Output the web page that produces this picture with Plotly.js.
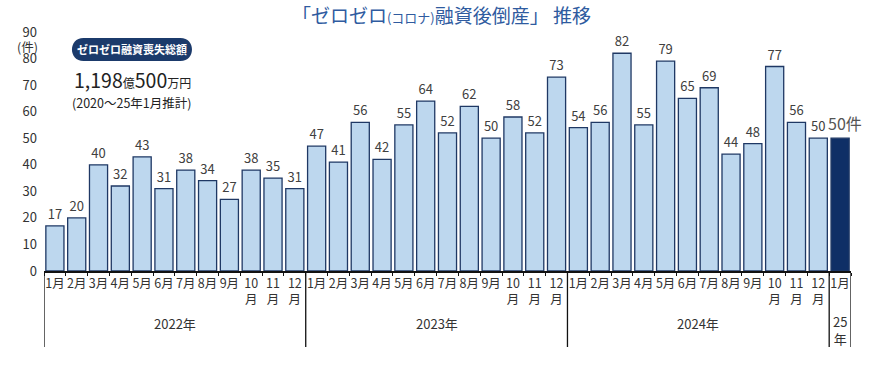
<!DOCTYPE html>
<html><head><meta charset="utf-8">
<script src="https://cdn.plot.ly/plotly-3.0.1.min.js"></script>
<style>html,body{margin:0;padding:0;background:#fff}#chart{width:883px;height:366px}</style>
</head><body><div id="chart"></div>
<script>
const categories = ["2022-01","2022-02","2022-03","2022-04","2022-05","2022-06","2022-07","2022-08","2022-09","2022-10","2022-11","2022-12",
"2023-01","2023-02","2023-03","2023-04","2023-05","2023-06","2023-07","2023-08","2023-09","2023-10","2023-11","2023-12",
"2024-01","2024-02","2024-03","2024-04","2024-05","2024-06","2024-07","2024-08","2024-09","2024-10","2024-11","2024-12",
"2025-01"];
const monthLabels = ["1月","2月","3月","4月","5月","6月","7月","8月","9月","10<br>月","11<br>月","12<br>月",
"1月","2月","3月","4月","5月","6月","7月","8月","9月","10<br>月","11<br>月","12<br>月",
"1月","2月","3月","4月","5月","6月","7月","8月","9月","10<br>月","11<br>月","12<br>月",
"1月"];
const values = [17,20,40,32,43,31,38,34,27,38,35,31,
47,41,56,42,55,64,52,62,50,58,52,73,
54,56,82,55,79,65,69,44,48,77,56,50,
50];
const yearLabels = ["2022年","2023年","2024年","25<br>年"];
const yearCenters = [5.5,17.5,29.5,36];
const yearBounds = [-0.5,11.5,23.5,35.5,36.5];

const last = values.length-1;
const fills = values.map((v,i)=> i===last ? "#0f2f66" : "#bdd7ee");
const texts = values.map((v,i)=> i===last ? "" : String(v));

const F = "Noto Sans CJK JP, sans-serif";
const trace = {
  type:"bar", x:categories, y:values, text:texts, textposition:"outside", constraintext:"none",
  textfont:{family:F,size:13,color:"#404040"}, cliponaxis:false,
  marker:{color:fills,line:{color:"#1f3864",width:1.3}},
  hoverinfo:"skip"
};

const shapes = yearBounds.map(b=>({type:"line",xref:"x",yref:"paper",x0:b,x1:b,y0:0,y1:-0.318,line:{color:"#111",width:1.3}}));
const r=11.5, hw=48.5, k=1.333*r;
shapes.push({type:"path",layer:"below",xref:"paper",yref:"paper",xsizemode:"pixel",ysizemode:"pixel",xanchor:0.109,yanchor:0.927,
  path:`M ${-hw},${-r} L ${hw},${-r} C ${hw+k},${-r} ${hw+k},${r} ${hw},${r} L ${-hw},${r} C ${-hw-k},${r} ${-hw-k},${-r} ${-hw},${-r} Z`,
  fillcolor:"#1b3a6b",line:{width:0}});

const annotations = yearLabels.map((t,i)=>({xref:"x",yref:"paper",x:yearCenters[i],xanchor:"center",y:i===3?-0.245:-0.218,yanchor:"middle",text:t,showarrow:false,font:{family:F,size:13,color:"#333"}}));
annotations.push(
  {xref:"x",yref:"y",x:categories[last],y:values[last],xanchor:"center",yanchor:"bottom",xshift:5,yshift:1,text:values[last]+"件",showarrow:false,font:{family:F,size:16,color:"#555"}},
  {xref:"paper",yref:"paper",x:0.109,xanchor:"center",y:0.927,yanchor:"middle",text:"<b>ゼロゼロ融資喪失総額</b>",showarrow:false,font:{family:F,size:11,color:"#fff"}},
  {xref:"paper",yref:"paper",x:0.035,xanchor:"left",y:0.803,yanchor:"middle",text:"1,198<span style='font-size:12px'>億</span>500<span style='font-size:12px'>万円</span>",showarrow:false,font:{family:F,size:19.5,color:"#222"}},
  {xref:"paper",yref:"paper",x:0.032,xanchor:"left",y:0.703,yanchor:"middle",text:"(2020～25年1月推計)",showarrow:false,font:{family:F,size:12.5,color:"#222"}},
  {xref:"paper",yref:"paper",x:-0.021,xanchor:"center",y:0.941,yanchor:"middle",text:"(件)",showarrow:false,font:{family:F,size:12.5,color:"#333"}}
);

const layout = {
  width:883,height:366,margin:{l:44,r:32,t:32,b:95},
  paper_bgcolor:"#fff",plot_bgcolor:"#fff",showlegend:false,bargap:0.17,
  title:{text:"「ゼロゼロ<span style='font-size:13px'>(コロナ)</span>融資後倒産」 推移",x:0.5,xanchor:"center",y:0.955,yanchor:"middle",font:{family:F,size:19,color:"#2f5b9f"}},
  font:{family:F,color:"#333"},
  xaxis:{type:"category",tickvals:categories,ticktext:monthLabels,tickangle:0,showline:true,linecolor:"#111",linewidth:1.5,
    ticks:"outside",tickson:"boundaries",ticklen:3,tickcolor:"#111",tickfont:{family:F,size:12.5,color:"#333"},showgrid:false,zeroline:false,fixedrange:true,range:[-0.5,36.5]},
  yaxis:{range:[0,90],dtick:10,showgrid:false,zeroline:false,showline:false,ticks:"",ticklabelstandoff:6,tickfont:{family:F,size:13,color:"#333"},fixedrange:true},
  shapes:shapes,annotations:annotations
};
Plotly.newPlot("chart",[trace],layout,{displayModeBar:false,staticPlot:true});
</script></body></html>
